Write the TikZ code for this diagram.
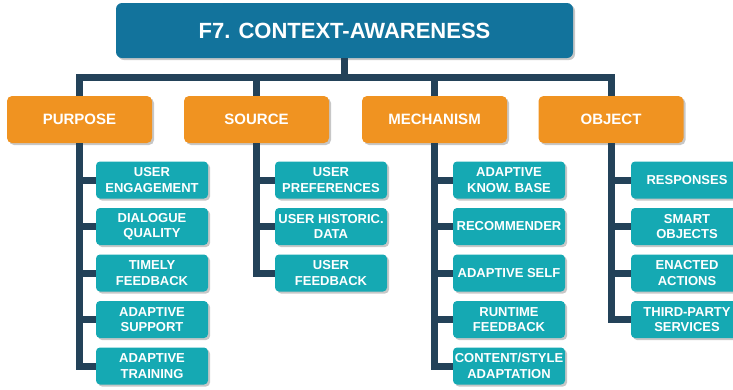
\documentclass[tikz,border=0pt]{standalone}
\usepackage{fontspec}
\setmainfont{Liberation Sans}
\usetikzlibrary{shadows}
\definecolor{rootblue}{RGB}{18,115,156}
\definecolor{catorange}{RGB}{240,147,33}
\definecolor{leafteal}{RGB}{21,169,179}
\definecolor{linknavy}{RGB}{35,66,89}
\tikzset{
	boxshadow/.style={drop shadow={shadow xshift=2pt,shadow yshift=-2pt,fill=black,opacity=.22}},
	rootbox/.style={boxshadow,fill=rootblue,rounded corners=6pt,minimum width=457pt,minimum height=55pt,text=white,font=\bfseries\fontsize{22}{26}\selectfont},
	catbox/.style={boxshadow,fill=catorange,rounded corners=5pt,minimum width=145pt,minimum height=47pt,text=white,font=\bfseries\fontsize{15}{18}\selectfont},
	leafbox/.style={boxshadow,fill=leafteal,rounded corners=4pt,minimum width=112pt,minimum height=37pt,inner sep=1pt,align=center,text=white,font=\bfseries\fontsize{13}{15.5}\selectfont},
	link/.style={draw=linknavy,line width=7pt}
}

\begin{document}
\begin{tikzpicture}[x=1pt,y=-1pt]
	\useasboundingbox (0,0) rectangle (733,389);
	\node[rootbox] (root) at (344.5,30.5) {F7. CONTEXT-AWARENESS};

	\node[catbox] (pur) at (79.5,119.5) {PURPOSE};
	\node[catbox] (src) at (256.5,119.5) {SOURCE};
	\node[catbox] (mech) at (434.5,119.5) {MECHANISM};
	\node[catbox] (obj) at (611,119.5) {OBJECT};

	% top bar
	\draw[link] (root.south) -- ++(0,19) coordinate (hub);
	\foreach \c in {pur,src,mech,obj}
	{
		\draw[link] (hub) -| (\c.north);
	}

	\foreach \txt[count=\j] in {{USER\\ENGAGEMENT},{DIALOGUE\\QUALITY},{TIMELY\\FEEDBACK},{ADAPTIVE\\SUPPORT},{ADAPTIVE\\TRAINING}}
	{
		\node[leafbox] (pur\j) at (152,{133.5+46.5*\j}) {\txt};
	}
	\foreach \txt[count=\j] in {{USER\\PREFERENCES},{USER HISTORIC.\\DATA},{USER\\FEEDBACK}}
	{
		\node[leafbox] (src\j) at (331,{133.5+46.5*\j}) {\txt};
	}
	\foreach \txt[count=\j] in {{ADAPTIVE\\KNOW. BASE},{RECOMMENDER},{ADAPTIVE SELF},{RUNTIME\\FEEDBACK},{CONTENT/STYLE\\ADAPTATION}}
	{
		\node[leafbox] (mech\j) at (509,{133.5+46.5*\j}) {\txt};
	}
	\foreach \txt[count=\j] in {{RESPONSES},{SMART\\OBJECTS},{ENACTED\\ACTIONS},{THIRD-PARTY\\SERVICES}}
	{
		\node[leafbox] (obj\j) at (687,{133.5+46.5*\j}) {\txt};
	}

	% trunks and stubs
	\foreach \c/\n in {pur/5,src/3,mech/5,obj/4}
	{
		\draw[link] (\c.south) |- (\c\n.west);
		\foreach \j in {1,...,\n}
		{
			\draw[link] (\c.south|-\c\j.west) -- (\c\j.west);
		}
	}
\end{tikzpicture}
\end{document}
